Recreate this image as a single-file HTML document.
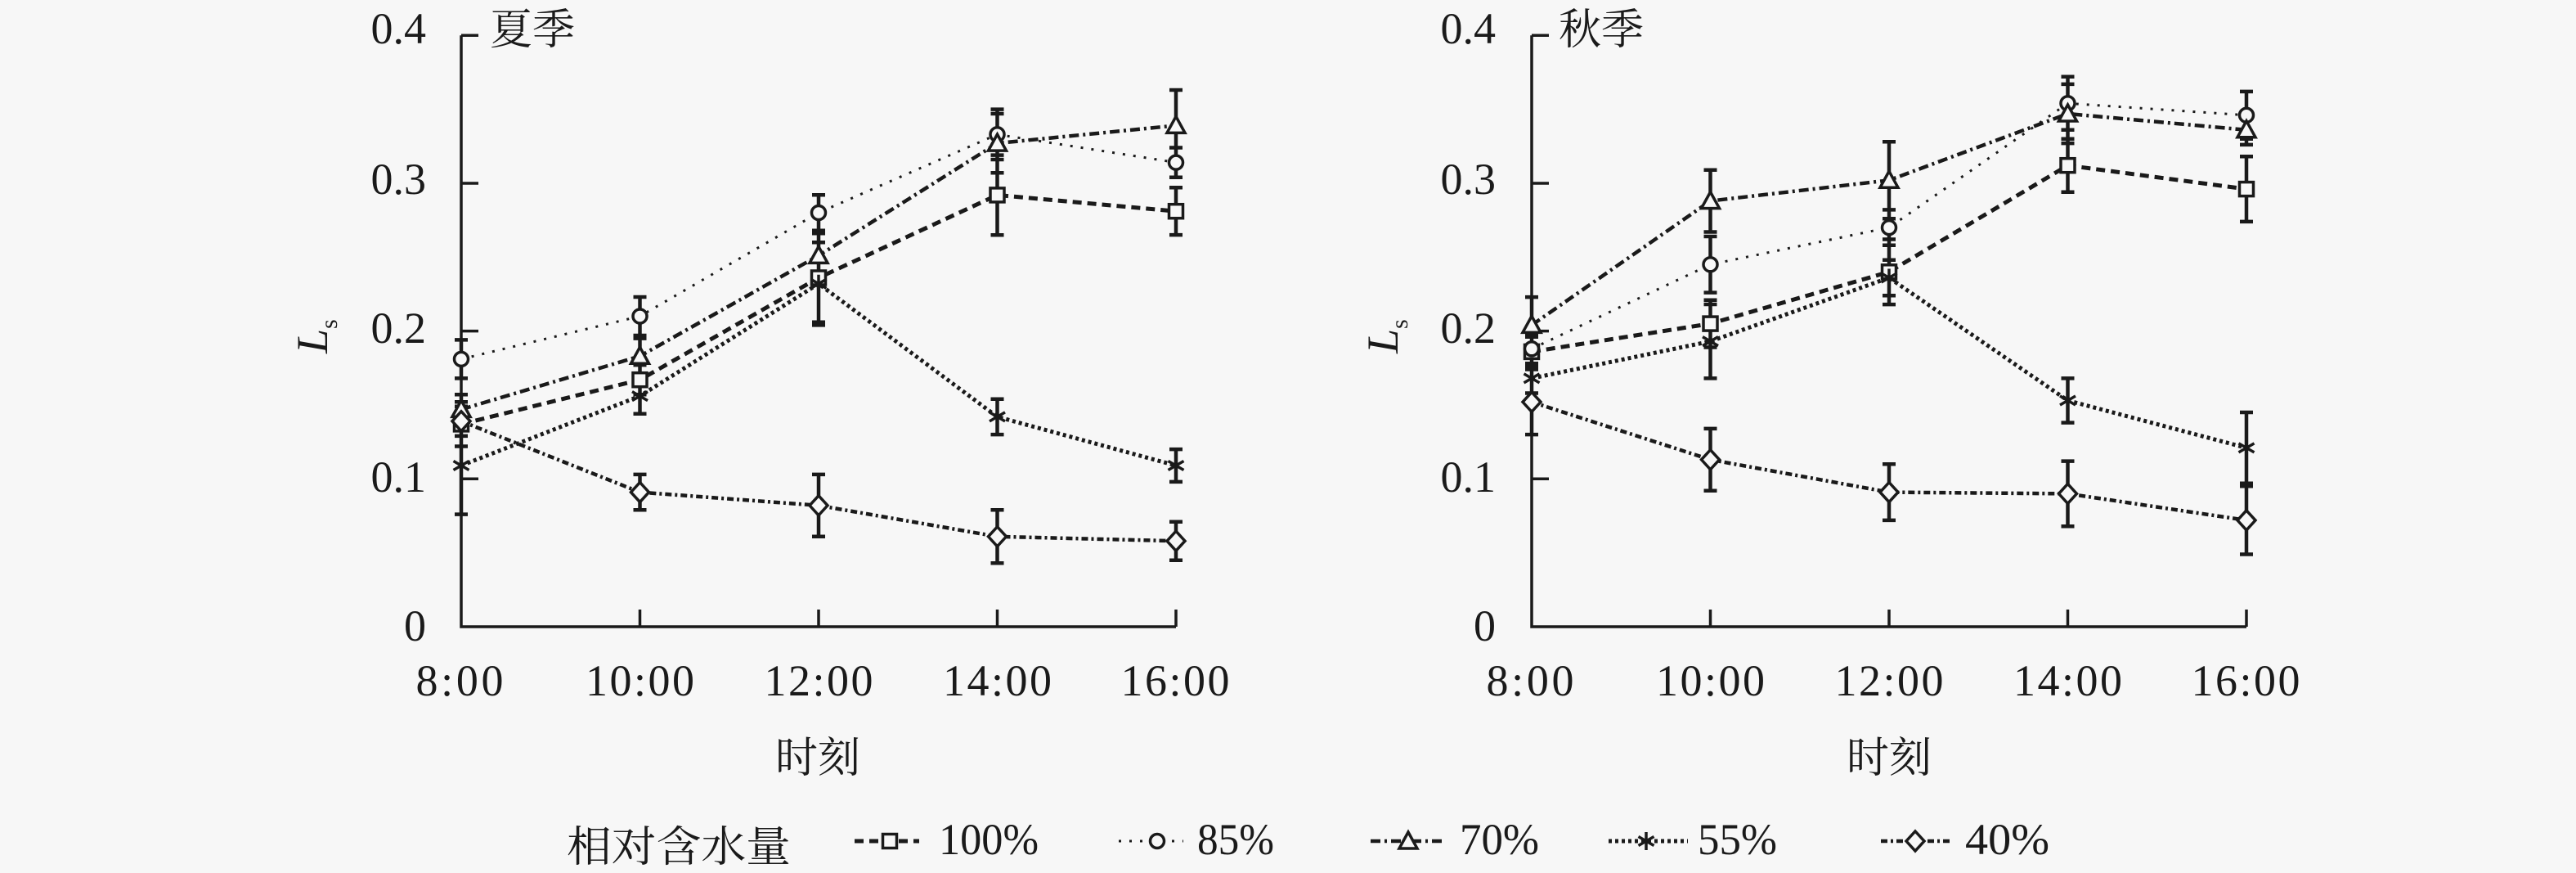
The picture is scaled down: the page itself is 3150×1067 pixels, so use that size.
<!DOCTYPE html>
<html><head><meta charset="utf-8"><style>
html,body{margin:0;padding:0;background:#f7f7f7;}
svg{display:block;}
text{fill:#1a1a1a;}
.num{font-family:"Liberation Serif","Noto Serif CJK SC",serif;font-size:54px;}
.cjk{font-family:"Liberation Serif","Noto Serif CJK SC","Noto Sans CJK SC",serif;font-size:52px;}
.ax{stroke:#1a1a1a;stroke-width:3.5;fill:none;}
.eb{stroke:#1a1a1a;stroke-width:4.5;fill:none;}
.s100{stroke:#1a1a1a;stroke-width:5;fill:none;stroke-dasharray:11 7;}
.s85{stroke:#1a1a1a;stroke-width:3;fill:none;stroke-dasharray:3 10;}
.s70{stroke:#1a1a1a;stroke-width:4.5;fill:none;stroke-dasharray:12 5 3 5;}
.s55{stroke:#1a1a1a;stroke-width:5;fill:none;stroke-dasharray:4 4;}
.s40{stroke:#1a1a1a;stroke-width:4.5;fill:none;stroke-dasharray:8 4 3 4;}
.mk{fill:#f7f7f7;stroke:#1a1a1a;stroke-width:3.5;}
</style></head><body>
<svg width="3150" height="1067" viewBox="0 0 3150 1067" xmlns="http://www.w3.org/2000/svg">
<defs>
<g id="sq"><rect class="mk" x="-8.5" y="-8.5" width="17" height="17"/></g>
<g id="ci"><circle class="mk" cx="0" cy="0" r="8.5"/></g>
<g id="tr"><polygon class="mk" points="0,-11 11,9 -11,9"/></g>
<g id="as"><path d="M0,-11V11M-9.5,-5.5L9.5,5.5M-9.5,5.5L9.5,-5.5" stroke="#1a1a1a" stroke-width="3.5" fill="none"/></g>
<g id="di"><polygon class="mk" points="0,-12 11,0 0,12 -11,0"/></g>
</defs>
<rect width="3150" height="1067" fill="#f7f7f7"/>

<!-- ================= LEFT PANEL ================= -->
<path class="ax" d="M564,43.3V766H1438M564,43.3h21M564,224h21M564,404.6h21M564,585.3h21M782.5,766v-21M1001,766v-21M1219.5,766v-21M1438,766v-21"/>
<g class="num" text-anchor="end">
<text x="521" y="53">0.4</text>
<text x="521" y="237">0.3</text>
<text x="521" y="419">0.2</text>
<text x="521" y="601">0.1</text>
<text x="521" y="783">0</text>
</g>
<g class="num" text-anchor="middle">
<text x="562" y="850" textLength="107" lengthAdjust="spacing">8:00</text>
<text x="782.5" y="850" textLength="133" lengthAdjust="spacing">10:00</text>
<text x="1001" y="850" textLength="133" lengthAdjust="spacing">12:00</text>
<text x="1219.5" y="850" textLength="133" lengthAdjust="spacing">14:00</text>
<text x="1437" y="850" textLength="133" lengthAdjust="spacing">16:00</text>
</g>
<text class="cjk" x="599" y="54">夏季</text>
<text class="cjk" x="1000" y="944" text-anchor="middle">时刻</text>
<text transform="translate(400,432) rotate(-90)" font-family="Liberation Serif,serif" font-size="54" font-style="italic">L<tspan font-size="30" dy="12" font-style="normal">s</tspan></text>

<polyline class="s100" points="564,518.4 782.5,464.2 1001,339.5 1219.5,238.4 1438,258.2"/>
<polyline class="s85" points="564,438.9 782.5,386.5 1001,260 1219.5,164.3 1438,198.6"/>
<polyline class="s70" points="564,500.4 782.5,435.3 1001,312.4 1219.5,175.1 1438,153.4"/>
<polyline class="s55" points="564,569 782.5,484.1 1001,346.8 1219.5,509.4 1438,569"/>
<polyline class="s40" points="564,514.8 782.5,601.6 1001,617.8 1219.5,655.8 1438,661.2"/>

<path class="eb" d="
M556,491.3h16M556,545.5h16M564,491.3V545.5
M774.5,446.1h16M774.5,482.3h16M782.5,446.1V482.3
M993,285.3h16M993,393.7h16M1001,285.3V393.7
M1211.5,189.6h16M1211.5,287.2h16M1219.5,189.6V287.2
M1430,229.3h16M1430,287.1h16M1438,229.3V287.1
M556,415.4h16M556,462.4h16M564,415.4V462.4
M774.5,363h16M774.5,410h16M782.5,363V410
M993,238.3h16M993,281.7h16M1001,238.3V281.7
M1211.5,133.6h16M1211.5,195h16M1219.5,133.6V195
M1430,180.5h16M1430,216.7h16M1438,180.5V216.7
M556,482.3h16M556,518.5h16M564,482.3V518.5
M774.5,413.6h16M774.5,457h16M782.5,413.6V457
M993,285.3h16M993,339.5h16M1001,285.3V339.5
M1211.5,139h16M1211.5,211.2h16M1219.5,139V211.2
M1430,110h16M1430,196.8h16M1438,110V196.8
M556,509.4h16M556,628.6h16M564,509.4V628.6
M774.5,462.4h16M774.5,505.8h16M782.5,462.4V505.8
M993,296.2h16M993,397.4h16M1001,296.2V397.4
M1211.5,487.7h16M1211.5,531.1h16M1219.5,487.7V531.1
M1430,549.1h16M1430,588.9h16M1438,549.1V588.9
M556,496.7h16M556,532.9h16M564,496.7V532.9
M774.5,579.9h16M774.5,623.3h16M782.5,579.9V623.3
M993,579.9h16M993,655.7h16M1001,579.9V655.7
M1211.5,623.3h16M1211.5,688.3h16M1219.5,623.3V688.3
M1430,637.7h16M1430,684.7h16M1438,637.7V684.7"/>

<use href="#sq" x="564" y="518.4"/><use href="#sq" x="782.5" y="464.2"/><use href="#sq" x="1001" y="339.5"/><use href="#sq" x="1219.5" y="238.4"/><use href="#sq" x="1438" y="258.2"/>
<use href="#ci" x="564" y="438.9"/><use href="#ci" x="782.5" y="386.5"/><use href="#ci" x="1001" y="260"/><use href="#ci" x="1219.5" y="164.3"/><use href="#ci" x="1438" y="198.6"/>
<use href="#tr" x="564" y="500.4"/><use href="#tr" x="782.5" y="435.3"/><use href="#tr" x="1001" y="312.4"/><use href="#tr" x="1219.5" y="175.1"/><use href="#tr" x="1438" y="153.4"/>
<use href="#as" x="564" y="569"/><use href="#as" x="782.5" y="484.1"/><use href="#as" x="1001" y="346.8"/><use href="#as" x="1219.5" y="509.4"/><use href="#as" x="1438" y="569"/>
<use href="#di" x="564" y="514.8"/><use href="#di" x="782.5" y="601.6"/><use href="#di" x="1001" y="617.8"/><use href="#di" x="1219.5" y="655.8"/><use href="#di" x="1438" y="661.2"/>

<!-- ================= RIGHT PANEL ================= -->
<path class="ax" d="M1873,43.3V766H2747M1873,43.3h21M1873,224h21M1873,404.6h21M1873,585.3h21M2091.5,766v-21M2310,766v-21M2528.5,766v-21M2747,766v-21"/>
<g class="num" text-anchor="end">
<text x="1829" y="53">0.4</text>
<text x="1829" y="237">0.3</text>
<text x="1829" y="419">0.2</text>
<text x="1829" y="601">0.1</text>
<text x="1829" y="783">0</text>
</g>
<g class="num" text-anchor="middle">
<text x="1871" y="850" textLength="107" lengthAdjust="spacing">8:00</text>
<text x="2091.5" y="850" textLength="133" lengthAdjust="spacing">10:00</text>
<text x="2310" y="850" textLength="133" lengthAdjust="spacing">12:00</text>
<text x="2528.5" y="850" textLength="133" lengthAdjust="spacing">14:00</text>
<text x="2746" y="850" textLength="133" lengthAdjust="spacing">16:00</text>
</g>
<text class="cjk" x="1906" y="54">秋季</text>
<text class="cjk" x="2310" y="944" text-anchor="middle">时刻</text>
<text transform="translate(1709,432) rotate(-90)" font-family="Liberation Serif,serif" font-size="54" font-style="italic">L<tspan font-size="30" dy="12" font-style="normal">s</tspan></text>

<polyline class="s100" points="1873,429.9 2091.5,395.6 2310,332.3 2528.5,202.2 2747,231.1"/>
<polyline class="s85" points="1873,426.3 2091.5,323.3 2310,278.1 2528.5,126.3 2747,140.8"/>
<polyline class="s70" points="1873,397.4 2091.5,245.6 2310,220.3 2528.5,139 2747,158.8"/>
<polyline class="s55" points="1873,462.4 2091.5,417.2 2310,339.5 2528.5,489.5 2747,547.4"/>
<polyline class="s40" points="1873,491.3 2091.5,561.8 2310,601.6 2528.5,603.4 2747,635.9"/>

<path class="eb" d="
M1865,411.8h16M1865,448h16M1873,411.8V448
M2083.5,366.7h16M2083.5,424.5h16M2091.5,366.7V424.5
M2302,292.5h16M2302,372.1h16M2310,292.5V372.1
M2520.5,169.7h16M2520.5,234.7h16M2528.5,169.7V234.7
M2739,191.3h16M2739,270.9h16M2747,191.3V270.9
M1865,408.2h16M1865,444.4h16M1873,408.2V444.4
M2083.5,289h16M2083.5,357.6h16M2091.5,289V357.6
M2302,256.4h16M2302,299.8h16M2310,256.4V299.8
M2520.5,93.8h16M2520.5,158.8h16M2528.5,93.8V158.8
M2739,111.9h16M2739,169.7h16M2747,111.9V169.7
M1865,363.1h16M1865,431.7h16M1873,363.1V431.7
M2083.5,207.7h16M2083.5,283.5h16M2091.5,207.7V283.5
M2302,173.3h16M2302,267.3h16M2310,173.3V267.3
M2520.5,102.9h16M2520.5,175.1h16M2528.5,102.9V175.1
M2739,140.7h16M2739,176.9h16M2747,140.7V176.9
M1865,444.3h16M1865,480.5h16M1873,444.3V480.5
M2083.5,372h16M2083.5,462.4h16M2091.5,372V462.4
M2302,317.8h16M2302,361.2h16M2310,317.8V361.2
M2520.5,462.4h16M2520.5,516.6h16M2528.5,462.4V516.6
M2739,504h16M2739,590.8h16M2747,504V590.8
M1865,451.5h16M1865,531.1h16M1873,451.5V531.1
M2083.5,523.9h16M2083.5,599.7h16M2091.5,523.9V599.7
M2302,567.3h16M2302,635.9h16M2310,567.3V635.9
M2520.5,563.6h16M2520.5,643.2h16M2528.5,563.6V643.2
M2739,594.3h16M2739,677.5h16M2747,594.3V677.5"/>

<use href="#sq" x="1873" y="429.9"/><use href="#sq" x="2091.5" y="395.6"/><use href="#sq" x="2310" y="332.3"/><use href="#sq" x="2528.5" y="202.2"/><use href="#sq" x="2747" y="231.1"/>
<use href="#ci" x="1873" y="426.3"/><use href="#ci" x="2091.5" y="323.3"/><use href="#ci" x="2310" y="278.1"/><use href="#ci" x="2528.5" y="126.3"/><use href="#ci" x="2747" y="140.8"/>
<use href="#tr" x="1873" y="397.4"/><use href="#tr" x="2091.5" y="245.6"/><use href="#tr" x="2310" y="220.3"/><use href="#tr" x="2528.5" y="139"/><use href="#tr" x="2747" y="158.8"/>
<use href="#as" x="1873" y="462.4"/><use href="#as" x="2091.5" y="417.2"/><use href="#as" x="2310" y="339.5"/><use href="#as" x="2528.5" y="489.5"/><use href="#as" x="2747" y="547.4"/>
<use href="#di" x="1873" y="491.3"/><use href="#di" x="2091.5" y="561.8"/><use href="#di" x="2310" y="601.6"/><use href="#di" x="2528.5" y="603.4"/><use href="#di" x="2747" y="635.9"/>

<!-- ================= LEGEND ================= -->
<text class="cjk" x="693" y="1053" textLength="274" lengthAdjust="spacingAndGlyphs">相对含水量</text>
<line class="s100" x1="1045" y1="1028" x2="1124" y2="1028"/>
<use href="#sq" x="1088" y="1028"/>
<text class="num" x="1148" y="1044" textLength="122" lengthAdjust="spacingAndGlyphs">100%</text>
<line class="s85" x1="1368" y1="1028" x2="1447" y2="1028"/>
<use href="#ci" x="1415" y="1028"/>
<text class="num" x="1464" y="1044" textLength="94" lengthAdjust="spacingAndGlyphs">85%</text>
<line class="s70" x1="1676" y1="1028" x2="1767" y2="1028"/>
<use href="#tr" x="1722" y="1028"/>
<text class="num" x="1785" y="1044" textLength="97" lengthAdjust="spacingAndGlyphs">70%</text>
<line class="s55" x1="1967" y1="1028" x2="2064" y2="1028"/>
<use href="#as" x="2013" y="1028"/>
<text class="num" x="2076" y="1044" textLength="97" lengthAdjust="spacingAndGlyphs">55%</text>
<line class="s40" x1="2300" y1="1028" x2="2385" y2="1028"/>
<use href="#di" x="2342" y="1028"/>
<text class="num" x="2403" y="1044" textLength="103" lengthAdjust="spacingAndGlyphs">40%</text>
</svg>
</body></html>
